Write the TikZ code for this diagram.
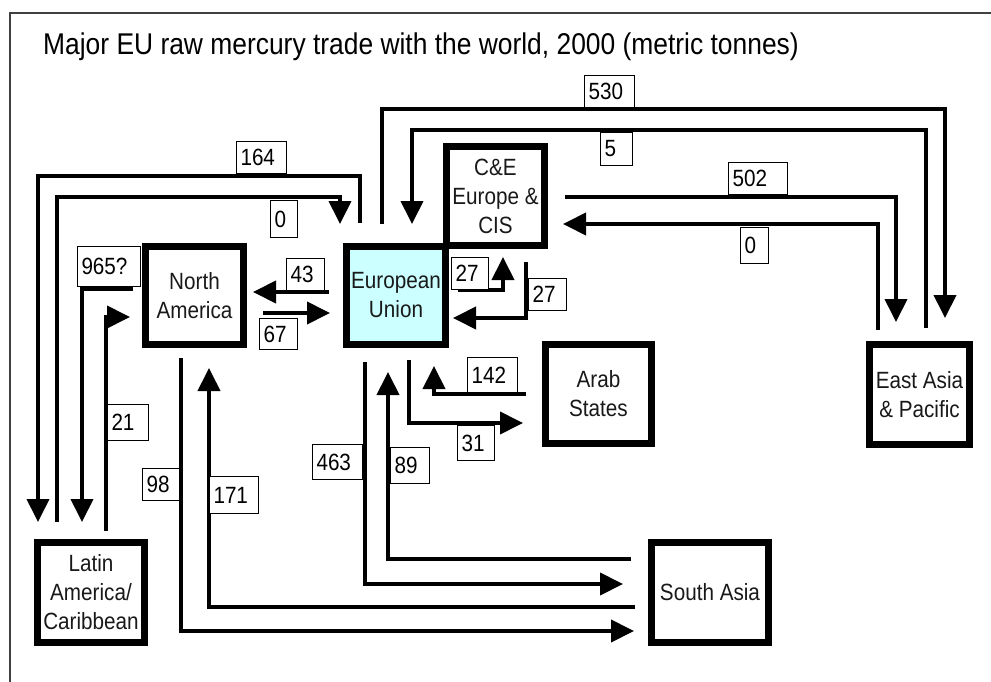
\documentclass[tikz,border=0pt]{standalone}
\usepackage{fontspec}
\setmainfont{Liberation Sans}[FakeStretch=0.88]
\usetikzlibrary{arrows.meta}
\definecolor{eucyan}{HTML}{CCFFFF}
\tikzset{
  region/.style={draw, line width=7pt, fill=white, align=center, inner sep=0pt,
    font=\fontsize{23.5}{29}\selectfont, text=black!90},
  flow/.style={line width=4pt, -{Triangle[length=23pt,width=22pt]}},
  flowplain/.style={line width=4pt},
  lbl/.style={draw, line width=1pt, fill=white, anchor=north west, align=left,
    inner xsep=4pt, inner ysep=0pt, font=\fontsize{23.5}{26}\selectfont},
  frame/.style={line width=2pt, draw=black!75}
}
\begin{document}
\begin{tikzpicture}[x=1pt,y=-1pt]
\useasboundingbox (0,0) rectangle (991,682);
% frame
\coordinate (frTL) at (10,13);
\coordinate (frTR) at (991,13);
\coordinate (frBL) at (10,682);
\draw[frame] (frTR) -- (frTL) -- (frBL);
% title
\node[anchor=base west, inner sep=0pt, font=\fontsize{30}{34}\selectfont] (title) at (43,55)
  {Major EU raw mercury trade with the world, 2000 (metric tonnes)};
% regions
\node[region, fill=eucyan, minimum width=99pt, minimum height=98pt] (eu) at (396,295.5) {European\\Union};
\node[region, minimum width=98pt, minimum height=99pt] (cee) at (495.5,196) {C\&E\\Europe \&\\CIS};
\node[region, minimum width=98pt, minimum height=98pt] (na) at (194.5,295.5) {North\\America};
\node[region, minimum width=106pt, minimum height=99pt] (arab) at (598.5,394) {Arab\\States};
\node[region, minimum width=100pt, minimum height=100pt] (eap) at (919.5,394.5) {East Asia\\\& Pacific};
\node[region, minimum width=117pt, minimum height=100pt] (sa) at (710,592.5) {South Asia};
\node[region, minimum width=107pt, minimum height=100pt] (lac) at (91,592.5) {Latin\\America/\\Caribbean};
% connector end points
\coordinate (s164) at (360,223);  \coordinate (m164) at (38,176);  \coordinate (t164) at (38,522);
\coordinate (s0a) at (57,522);    \coordinate (m0a) at (340,197);  \coordinate (t0a) at (340,224);
\coordinate (s965) at (133,289);  \coordinate (t965) at (82,522);
\coordinate (s21) at (106,531);   \coordinate (t21) at (130,317);
\coordinate (s43) at (329,292);   \coordinate (t43) at (253,292);
\coordinate (s67) at (263,313);   \coordinate (t67) at (330,313);
\coordinate (s530) at (382,224);  \coordinate (m530) at (945,109); \coordinate (t530) at (945,318);
\coordinate (s5) at (926,328);    \coordinate (m5) at (412,130);   \coordinate (t5) at (412,224);
\coordinate (s502) at (565,197);  \coordinate (t502) at (896,322);
\coordinate (s0b) at (878,330);   \coordinate (t0b) at (563,224);
\coordinate (s27a) at (458,290);  \coordinate (t27a) at (503,257);
\coordinate (s27b) at (526,262);  \coordinate (t27b) at (453,318);
\coordinate (s142) at (526,394);  \coordinate (t142) at (434,366);
\coordinate (s31) at (409,360);   \coordinate (t31) at (523,423);
\coordinate (s463) at (365,362);  \coordinate (t463) at (623,584);
\coordinate (s89) at (631,559);   \coordinate (t89) at (388,372);
\coordinate (s98) at (181,358);   \coordinate (t98) at (634,631);
\coordinate (s171) at (635,607);  \coordinate (t171) at (209,368);
% connectors
\draw[flow] (s164) |- (m164) -- (t164);
\draw[flow] (s0a) |- (m0a) -- (t0a);
\draw[flow] (s965) -| (t965);
\draw[flow] (s21) |- (t21);
\draw[flow] (s43) -- (t43);
\draw[flow] (s67) -- (t67);
\draw[flow] (s530) |- (m530) -- (t530);
\draw[flow] (s5) |- (m5) -- (t5);
\draw[flow] (s502) -| (t502);
\draw[flow] (s0b) |- (t0b);
\draw[flow] (s27a) -| (t27a);
\draw[flow] (s27b) |- (t27b);
\draw[flow] (s142) -| (t142);
\draw[flow] (s31) |- (t31);
\draw[flow] (s463) |- (t463);
\draw[flow] (s89) -| (t89);
\draw[flow] (s98) |- (t98);
\draw[flow] (s171) -| (t171);
% labels
\node[lbl, text width=42pt, minimum height=32pt] (l164) at (236,141) {164};
\node[lbl, text width=19pt, minimum height=37pt] (l0a) at (270,200) {0};
\node[lbl, text width=55pt, minimum height=40pt] (l965) at (77,246) {965?};
\node[lbl, text width=30pt, minimum height=32pt] (l43) at (286,258) {43};
\node[lbl, text width=30pt, minimum height=31pt] (l67) at (259,318) {67};
\node[lbl, text width=42pt, minimum height=32pt] (l530) at (584,75) {530};
\node[lbl, text width=24pt, minimum height=33pt] (l5) at (600,132) {5};
\node[lbl, text width=29pt, minimum height=32pt] (l27a) at (451,257) {27};
\node[lbl, text width=30pt, minimum height=32pt] (l27b) at (528,278) {27};
\node[lbl, text width=51pt, minimum height=32pt] (l502) at (728,162) {502};
\node[lbl, text width=20pt, minimum height=36pt] (l0b) at (740,227) {0};
\node[lbl, text width=33pt, minimum height=36pt] (l21) at (107,404) {21};
\node[lbl, text width=29pt, minimum height=32pt] (l98) at (142,468) {98};
\node[lbl, text width=41pt, minimum height=37pt] (l171) at (209,476) {171};
\node[lbl, text width=42pt, minimum height=35pt] (l463) at (312,444) {463};
\node[lbl, text width=31pt, minimum height=36pt] (l89) at (390,447) {89};
\node[lbl, text width=42pt, minimum height=35pt] (l142) at (467,357) {142};
\node[lbl, text width=29pt, minimum height=35pt] (l31) at (457,425) {31};
\end{tikzpicture}
\end{document}
